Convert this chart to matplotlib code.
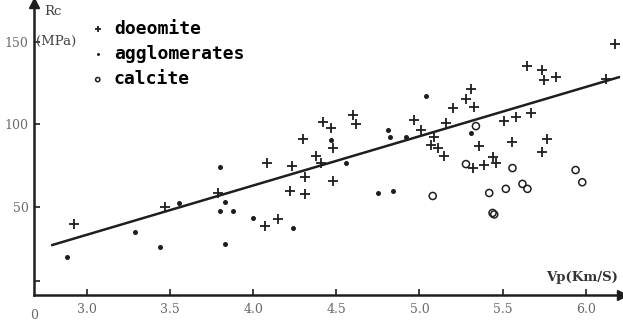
import numpy as np
import matplotlib
matplotlib.use("Agg")
import matplotlib.pyplot as plt

# Vp (km/s) and Rc (MPa)
dolomite_vp = [2.92, 3.47, 3.79, 4.07, 4.08, 4.15, 4.22, 4.23, 4.30, 4.31, 4.31, 4.38,
               4.41, 4.42, 4.47, 4.48, 4.48, 4.60, 4.62, 4.97, 5.01, 5.07, 5.09, 5.11,
               5.15, 5.16, 5.20, 5.28, 5.31, 5.33, 5.32, 5.36, 5.39, 5.44, 5.46, 5.51,
               5.56, 5.58, 5.65, 5.67, 5.74, 5.74, 5.75, 5.77, 5.82, 6.12, 6.18]
dolomite_rc = [39.7, 50, 58.5, 38.5, 76.7, 43, 59.7, 75, 91, 58, 68, 81,
               76.7, 101.5, 98, 86, 66, 106, 100, 103, 96.7, 87.6, 92.4, 85.8,
               81, 101, 110, 115.5, 121.5, 110.6, 73.6, 87, 75.5, 80.3, 76.7, 102,
               89.5, 104.5, 135.5, 107, 83.3, 133, 127, 91.2, 128.8, 127.6, 149]

agglo_vp = [2.88, 3.29, 3.44, 3.55, 3.80, 3.83, 3.80, 3.88, 3.83, 4.00, 4.24, 4.47,
            4.56, 4.75, 4.81, 4.82, 4.84, 4.92, 5.04, 5.31]
agglo_rc = [19.7, 34.8, 25.8, 52.4, 74.2, 53, 47.6, 47.6, 27.6, 43.3, 37.3, 90.6,
            76.7, 58.5, 96.7, 92.4, 59.7, 92.4, 117, 94.8]

calcite_vp = [5.08, 5.28, 5.34, 5.42, 5.44, 5.45, 5.52, 5.56, 5.62, 5.65, 5.94, 5.98]
calcite_rc = [56.7, 76, 99, 58.5, 46.4, 45.5, 61, 73.6, 64, 61, 72.4, 65]

# fitted line Rc = a + b * (Vp - x0)
fit_x = [2.79, 6.2]
fit_a, fit_b, fit_x0 = 27.0, 29.8, 2.79

xticks = [3.0, 3.5, 4.0, 4.5, 5.0, 5.5, 6.0]
xticklabels = ["3.0", "3.5", "4.0", "4.5", "5.0", "5.5", "6.0"]
yticks = [5, 50, 100, 150]
yticklabels = ["", "50", "100", "150"]

ink = "#1e1e1e"
grey = "#6a6a6a"

fig = plt.figure(figsize=(6.23, 3.26), dpi=100)
ax = fig.add_axes([0.0546, 0.095, 0.944, 0.896])

ax.scatter(dolomite_vp, dolomite_rc, marker="+", s=46, linewidths=1.3, color=ink,
           label="doeomite", zorder=3)
ax.scatter(agglo_vp, agglo_rc, marker="o", s=13, color=ink, linewidths=0,
           label="agglomerates", zorder=3)
ax.scatter(calcite_vp, calcite_rc, marker="o", s=26, facecolors="none",
           edgecolors=ink, linewidths=1.1, label="calcite", zorder=3)

fx = np.array(fit_x)
ax.plot(fx, fit_a + fit_b * (fx - fit_x0), color=ink, lw=1.8, zorder=2)

ax.set_xlim(2.68, 6.22)
ax.set_ylim(-3.3, 173.6)
for s in ["top", "right"]:
    ax.spines[s].set_visible(False)
for s in ["left", "bottom"]:
    ax.spines[s].set_color(ink)
    ax.spines[s].set_linewidth(1.8)

# arrow heads on the axes
ax.plot(1, 0, marker=">", ms=7, color=ink, transform=ax.transAxes, clip_on=False)
ax.plot(0, 1, marker="^", ms=7, color=ink, transform=ax.transAxes, clip_on=False)

ax.set_xticks(xticks)
ax.set_xticklabels(xticklabels, family="DejaVu Serif", fontsize=9, color=grey)
ax.set_yticks(yticks)
ax.set_yticklabels(yticklabels, family="DejaVu Serif", fontsize=9, color=grey)
ax.tick_params(direction="in", length=4, width=1.2, color=ink, pad=6)
ax.tick_params(axis="y", pad=4)

ax.text(0.0, -0.07, "0", transform=ax.transAxes, ha="center", va="center",
        family="DejaVu Serif", fontsize=9, color=grey)
ax.text(0.017, 0.97, "Rc", transform=ax.transAxes, ha="left", va="center",
        family="DejaVu Serif", fontsize=9.5, color="#444444")
ax.text(0.004, 0.868, "(MPa)", transform=ax.transAxes, ha="left", va="center",
        family="DejaVu Serif", fontsize=9.5, color="#444444")
ax.text(0.993, 0.06, "Vp(Km/S)", transform=ax.transAxes, ha="right", va="center",
        family="DejaVu Serif", fontsize=9.5, fontweight="bold", color="#333333")

leg = ax.legend(loc="upper left", bbox_to_anchor=(0.0715, 0.979), frameon=False,
                prop={"family": "DejaVu Sans Mono", "weight": "bold", "size": 13},
                handletextpad=0.3, labelspacing=0.4, handlelength=1.2,
                borderaxespad=0.2, markerscale=0.6)

plt.savefig("out.png", dpi=100)
plt.close(fig)
